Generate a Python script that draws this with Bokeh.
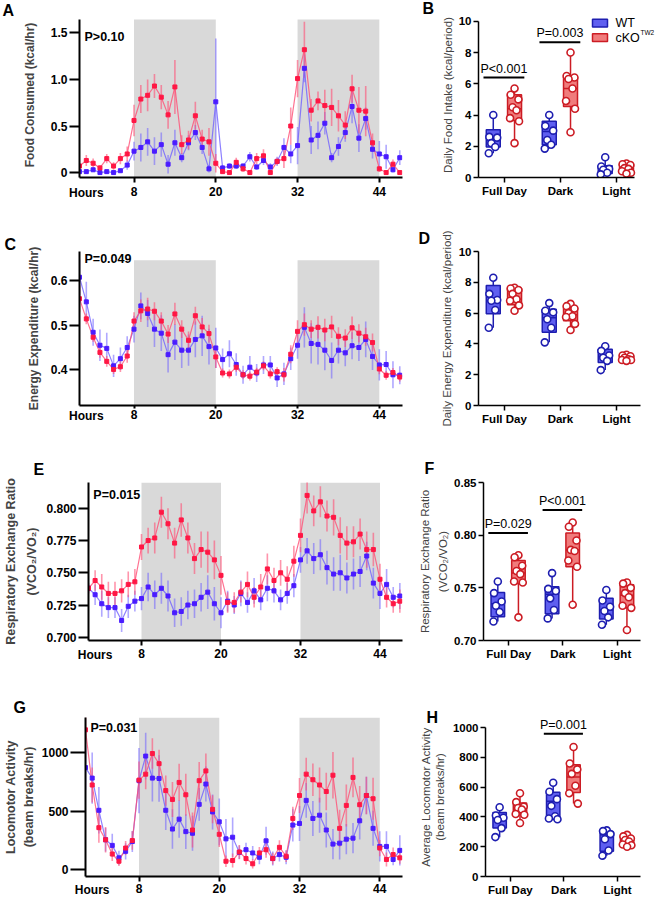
from bokeh.plotting import figure
from bokeh.layouts import row, column
from bokeh.models import (Range1d, FixedTicker, BoxAnnotation, Label, PrintfTickFormatter,
                          LinearAxis)
from bokeh.embed import file_html
from bokeh.resources import INLINE

# ---------------- data ----------------
hours = list(range(48))
dark_start = [8, 32]
dark_end = [20, 44]
hour_ticks = [8, 20, 32, 44]
hour_label_ticks = [1]
hour_label_text = {1: "Hours"}

# A: food consumed (kcal/hr)
a_ko = [0.07,0.13,0.10,0.05,0.15,0.07,0.15,0.20, 0.56,0.79,0.83,0.93,0.81,0.62,0.92,0.30,
        0.35,0.61,0.36,0.33,0.10,0.01,0.00,0.11, 0.04,0.00,0.15,0.18,0.00,0.12,0.15,0.50,
        1.01,1.32,0.67,0.77,0.72,0.70,0.61,0.51, 0.90,0.67,0.66,0.32,0.04,0.00,0.09,0.00]
a_ko_err = [0.03,0.06,0.05,0.03,0.05,0.04,0.06,0.08, 0.17,0.15,0.17,0.13,0.13,0.15,0.29,0.10,
            0.10,0.15,0.10,0.15,0.10,0.02,0.02,0.05, 0.03,0.02,0.06,0.07,0.02,0.04,0.10,0.20,
            0.20,0.30,0.12,0.10,0.17,0.20,0.17,0.15, 0.15,0.25,0.27,0.10,0.03,0.02,0.05,0.02]
a_wt = [0.01,0.01,0.03,0.00,0.01,0.00,0.02,0.08, 0.23,0.27,0.33,0.23,0.30,0.09,0.32,0.16,
        0.32,0.43,0.27,0.04,0.76,0.05,0.07,0.07, 0.07,0.17,0.06,0.13,0.06,0.12,0.27,0.20,
        0.29,1.12,0.35,0.40,0.53,0.16,0.28,0.43, 0.71,0.37,0.58,0.25,0.20,0.17,0.03,0.16]
a_wt_err = [0.01,0.01,0.02,0.01,0.01,0.01,0.02,0.05, 0.10,0.15,0.15,0.15,0.13,0.10,0.14,0.05,
            0.08,0.08,0.07,0.04,0.68,0.03,0.03,0.03, 0.03,0.05,0.03,0.05,0.04,0.05,0.10,0.10,
            0.20,0.15,0.15,0.15,0.12,0.05,0.10,0.10, 0.18,0.15,0.12,0.10,0.14,0.13,0.03,0.08]

# C: energy expenditure (kcal/hr)
c_ko = [0.559,0.514,0.473,0.439,0.419,0.401,0.407,0.431, 0.509,0.532,0.536,0.531,0.509,0.480,0.525,0.491,
        0.466,0.521,0.496,0.481,0.429,0.393,0.391,0.406, 0.389,0.386,0.395,0.409,0.391,0.396,0.389,0.435,
        0.486,0.501,0.491,0.495,0.489,0.496,0.475,0.471, 0.494,0.482,0.474,0.461,0.402,0.388,0.394,0.384]
c_ko_err = [0.03,0.012,0.01,0.012,0.012,0.01,0.012,0.015, 0.02,0.025,0.025,0.02,0.02,0.02,0.025,0.02,
            0.02,0.02,0.02,0.02,0.025,0.01,0.01,0.01, 0.01,0.01,0.01,0.01,0.01,0.01,0.015,0.02,
            0.025,0.025,0.02,0.025,0.025,0.025,0.02,0.02, 0.025,0.02,0.02,0.02,0.012,0.01,0.01,0.01]
c_wt = [0.607,0.552,0.484,0.455,0.448,0.409,0.425,0.450, 0.491,0.543,0.526,0.491,0.482,0.434,0.462,0.444,
        0.444,0.468,0.476,0.452,0.449,0.423,0.436,0.412, 0.389,0.406,0.393,0.411,0.411,0.382,0.391,0.425,
        0.455,0.495,0.459,0.457,0.444,0.421,0.444,0.438, 0.454,0.450,0.468,0.430,0.411,0.412,0.389,0.388]
c_wt_err = [0.04,0.045,0.03,0.035,0.035,0.025,0.025,0.025, 0.03,0.03,0.03,0.04,0.04,0.04,0.04,0.04,
            0.035,0.04,0.045,0.04,0.045,0.025,0.03,0.025, 0.02,0.025,0.02,0.02,0.02,0.02,0.025,0.025,
            0.03,0.045,0.045,0.045,0.045,0.04,0.03,0.03, 0.03,0.03,0.04,0.03,0.035,0.03,0.03,0.02]

# E: respiratory exchange ratio
e_ko = [0.738,0.744,0.739,0.734,0.734,0.736,0.741,0.743, 0.770,0.775,0.777,0.797,0.788,0.773,0.791,0.777,
        0.761,0.768,0.766,0.760,0.748,0.727,0.727,0.735, 0.741,0.731,0.739,0.753,0.744,0.750,0.745,0.759,
        0.779,0.810,0.798,0.805,0.794,0.793,0.779,0.773, 0.774,0.780,0.768,0.768,0.745,0.731,0.726,0.728]
e_ko_err = [0.004,0.008,0.01,0.009,0.009,0.009,0.01,0.01, 0.01,0.01,0.012,0.012,0.012,0.012,0.013,0.012,
            0.012,0.014,0.016,0.015,0.015,0.008,0.008,0.008, 0.01,0.008,0.01,0.012,0.01,0.01,0.01,0.012,
            0.013,0.014,0.012,0.012,0.012,0.014,0.014,0.013, 0.012,0.012,0.014,0.013,0.012,0.008,0.007,0.009]
e_wt = [0.738,0.733,0.726,0.723,0.723,0.713,0.724,0.728, 0.730,0.739,0.733,0.738,0.732,0.719,0.720,0.725,
        0.726,0.731,0.735,0.726,0.719,0.728,0.725,0.734, 0.727,0.736,0.729,0.738,0.736,0.729,0.734,0.740,
        0.760,0.767,0.761,0.764,0.754,0.749,0.750,0.746, 0.749,0.751,0.763,0.742,0.734,0.741,0.731,0.732]
e_wt_err = [0.003,0.008,0.01,0.008,0.008,0.009,0.009,0.008, 0.009,0.011,0.011,0.012,0.012,0.011,0.011,0.011,
            0.011,0.011,0.013,0.013,0.012,0.008,0.007,0.01, 0.008,0.01,0.008,0.01,0.009,0.008,0.008,0.009,
            0.01,0.01,0.012,0.012,0.013,0.013,0.014,0.012, 0.012,0.012,0.011,0.012,0.012,0.012,0.008,0.01]

# G: locomotor activity (beam breaks/hr)
g_ko = [1197,724,358,254,132,70,183,248, 766,817,994,907,676,600,746,640,
        338,761,845,515,301,70,76,149, 93,48,141,169,93,189,113,437,
        634,817,769,724,668,808,352,549, 789,555,634,606,183,85,127,99]
g_ko_err = [120,150,130,110,60,40,60,80, 160,130,130,120,130,150,160,180,
            150,160,150,120,110,50,60,60, 50,40,50,70,50,60,50,100,
            150,140,140,150,160,200,160,180, 170,160,160,180,70,60,60,50]
g_wt = [873,783,507,254,206,99,155,239, 761,972,783,780,507,346,431,324,
        310,558,732,493,408,262,276,146, 169,141,104,245,93,127,104,380,
        394,592,437,465,338,217,225,259, 268,417,634,352,197,197,85,163]
g_wt_err = [190,220,200,100,100,60,70,90, 280,200,200,200,170,170,160,150,
            150,140,150,150,200,170,170,60, 60,60,60,120,60,60,60,140,
            150,150,150,150,150,130,140,130, 130,160,160,150,130,130,50,130]

categories = ["Full Day", "Dark", "Light"]

# B: daily food intake
b_wt_pts = [[4.0,2.6,2.55,2.2,1.95,1.55],[4.0,3.3,3.0,2.4,2.1,1.85],[1.3,0.7,0.55,0.5,0.3,0.2]]
b_wt_q1 = [1.95,2.1,0.25]; b_wt_med = [2.4,2.95,0.5]; b_wt_q3 = [3.05,3.6,0.75]
b_wt_lo = [1.55,1.85,0.2]; b_wt_hi = [4.0,4.0,1.3]
b_ko_pts = [[5.7,5.3,5.0,4.5,4.3,3.8,3.6,2.2],[8.0,6.5,6.4,6.3,5.7,4.9,4.4,2.9],[0.9,0.85,0.8,0.6,0.55,0.4,0.3,0.25]]
b_ko_q1 = [3.65,4.55,0.35]; b_ko_med = [4.4,5.7,0.6]; b_ko_q3 = [5.3,6.4,0.85]
b_ko_lo = [2.2,2.9,0.25]; b_ko_hi = [5.7,8.0,0.9]
b_sig_cat = [0, 1]; b_sig_y = [6.4, 8.65]; b_sig_text = ["P<0.001", "P=0.003"]

# D: daily energy expenditure
d_wt_pts = [[8.3,7.25,6.85,6.8,6.2,5.05],[6.65,6.15,6.05,5.6,5.05,4.1],[3.85,3.55,3.25,3.1,2.9,2.3]]
d_wt_q1 = [5.95,4.75,2.8]; d_wt_med = [6.8,5.7,3.2]; d_wt_q3 = [7.8,6.25,3.65]
d_wt_lo = [5.05,4.1,2.3]; d_wt_hi = [8.3,6.65,3.85]
d_ko_pts = [[7.65,7.6,7.5,7.25,6.9,6.8,6.5,6.15],[6.6,6.45,6.3,6.0,5.8,5.75,5.3,4.9],[3.3,3.25,3.2,3.1,3.0,2.95,2.95,2.9]]
d_ko_q1 = [6.55,5.5,2.95]; d_ko_med = [6.9,5.9,3.1]; d_ko_q3 = [7.6,6.35,3.25]
d_ko_lo = [6.15,4.9,2.9]; d_ko_hi = [7.7,6.6,3.3]
d_sig_cat = []; d_sig_y = []; d_sig_text = []

# F: respiratory exchange ratio by period
f_wt_pts = [[0.756,0.745,0.737,0.733,0.727,0.718],[0.764,0.749,0.747,0.740,0.729,0.721],[0.748,0.738,0.732,0.728,0.722,0.715]]
f_wt_q1 = [0.7225,0.7255,0.7205]; f_wt_med = [0.735,0.744,0.729]; f_wt_q3 = [0.7455,0.751,0.740]
f_wt_lo = [0.718,0.721,0.715]; f_wt_hi = [0.756,0.764,0.748]
f_ko_pts = [[0.781,0.779,0.771,0.766,0.763,0.756,0.755,0.722],[0.812,0.808,0.795,0.786,0.785,0.776,0.770,0.734],[0.755,0.754,0.750,0.745,0.741,0.733,0.731,0.710]]
f_ko_q1 = [0.754,0.770,0.731]; f_ko_med = [0.764,0.786,0.743]; f_ko_q3 = [0.776,0.802,0.753]
f_ko_lo = [0.722,0.734,0.710]; f_ko_hi = [0.781,0.812,0.755]
f_sig_cat = [0, 1]; f_sig_y = [0.802, 0.824]; f_sig_text = ["P=0.029", "P<0.001"]

# H: average locomotor activity
h_wt_pts = [[465,410,395,380,325,265],[630,570,520,475,405,390,385],[310,305,285,250,175,140]]
h_wt_q1 = [326,395,170]; h_wt_med = [388,505,280]; h_wt_q3 = [430,567,300]
h_wt_lo = [263,385,140]; h_wt_hi = [463,630,310]
h_ko_pts = [[560,500,470,460,450,420,415,360],[870,760,720,690,610,560,490],[280,270,255,245,235,215,210,200]]
h_ko_q1 = [429,564,215]; h_ko_med = [456,668,240]; h_ko_q3 = [494,751,265]
h_ko_lo = [360,490,200]; h_ko_hi = [560,870,280]
h_sig_cat = [1]; h_sig_y = [960]; h_sig_text = ["P=0.001"]

# ---------------- style ----------------
FONT = "Liberation Sans"
KO_PT = "#ff1744"; KO_LN = "#ff4f75"
WT_PT = "#4a1cff"; WT_LN = "#7060ff"
WT_FILL = "#5f5ff0"; WT_EDGE = "#1e1eb0"
KO_FILL = "#f07c7c"; KO_EDGE = "#cc1c24"
GRAY = "#d9d9d9"

LEFT_X0, LEFT_W = 0, 416
RIGHT_X0, RIGHT_W = 416, 241


def to_data(spec, X, Y):
    fx0, fy0, fx1, fy1 = spec["frame"]
    x0, x1 = spec["xr"]
    y0, y1 = spec["yr"]
    return (x0 + (X - fx0) / (fx1 - fx0) * (x1 - x0),
            y1 - (Y - fy0) / (fy1 - fy0) * (y1 - y0))


def add_text(p, spec, X, Y, text, size="12px", style="normal", align="left", baseline="middle"):
    x, y = to_data(spec, X, Y)
    p.add_layout(Label(x=x, y=y, text=text, text_font=FONT, text_font_size=size,
                       text_font_style=style, text_align=align, text_baseline=baseline,
                       text_color="black"))


def mk_fig(spec, cx0, cw):
    fx0, fy0, fx1, fy1 = spec["frame"]
    rt, rb = spec["row"]
    p = figure(width=cw, height=rb - rt, x_range=Range1d(*spec["xr"]),
               y_range=Range1d(*spec["yr"]), output_backend="svg", toolbar_location=None,
               min_border_left=fx0 - cx0, min_border_right=cx0 + cw - fx1,
               min_border_top=fy0 - rt, min_border_bottom=rb - fy1)
    p.xgrid.visible = False
    p.ygrid.visible = False
    p.outline_line_color = None
    # panel letter as a title pulled to the left of the frame
    lx, lyb = spec["letter"]
    p.title.text = spec["name"]
    p.title.align = "left"
    p.title.offset = lx - fx0 - 1
    p.title.standoff = 2 * (fy0 - 3.4 - lyb)
    p.title.text_font = FONT
    p.title.text_font_size = "16px"
    p.title.text_font_style = "bold"
    p.title.text_color = "black"
    return p


def style_axis(ax, size, lw, tick_out, standoff):
    ax.axis_line_width = lw
    ax.axis_line_color = "black"
    ax.major_tick_line_width = lw
    ax.major_tick_line_color = "black"
    ax.major_tick_in = 0
    ax.major_tick_out = tick_out
    ax.minor_tick_line_color = None
    ax.major_label_text_font = FONT
    ax.major_label_text_font_size = size
    ax.major_label_text_font_style = "bold"
    ax.major_label_text_color = "black"
    ax.major_label_standoff = standoff


def ts_panel(spec, wt, wt_err, ko, ko_err):
    p = mk_fig(spec, LEFT_X0, LEFT_W)
    for s, e in zip(dark_start, dark_end):
        p.add_layout(BoxAnnotation(left=s, right=e, top=spec["gray_top"],
                                   fill_color=GRAY, fill_alpha=1.0, line_color=None,
                                   level="underlay"))
    for vals, errs, col, a in [(wt, wt_err, WT_LN, 0.55), (ko, ko_err, KO_LN, 0.6)]:
        p.segment(x0=hours, y0=[v - e for v, e in zip(vals, errs)],
                  x1=hours, y1=[v + e for v, e in zip(vals, errs)],
                  line_color=col, line_alpha=a, line_width=1.6)
    p.line(hours, wt, line_color=WT_LN, line_alpha=0.8, line_width=1.2)
    p.line(hours, ko, line_color=KO_LN, line_alpha=0.8, line_width=1.2)
    p.scatter(hours, wt, marker="square", size=4, fill_color=WT_PT, line_color=WT_PT)
    p.scatter(hours, ko, marker="square", size=4, fill_color=KO_PT, line_color=KO_PT)

    # x axis with ticks/labels; a second, line-less axis puts "Hours" on the same row
    ax1 = p.xaxis[0]
    style_axis(ax1, "12px", 2, spec["xtick_out"], spec["xlab_standoff"])
    ax1.ticker = FixedTicker(ticks=hour_ticks)
    ax2 = LinearAxis(ticker=FixedTicker(ticks=hour_label_ticks),
                     major_label_overrides=hour_label_text)
    style_axis(ax2, "12px", 2, 0, -13)
    ax2.axis_line_color = None
    ax2.major_tick_line_color = None
    p.add_layout(ax2, "below")

    style_axis(p.yaxis[0], "12px", 2, spec["ytick_out"], 2)
    p.yaxis.ticker = FixedTicker(ticks=spec["yticks"])
    p.yaxis.formatter = PrintfTickFormatter(format=spec["fmt"])
    p.yaxis.bounds = (spec["yr"][0], spec["gray_top"] if spec.get("ytop") is None else spec["ytop"])
    if spec.get("zero_label"):
        p.yaxis.major_label_overrides = {0: "0"}
    p.yaxis.axis_label = spec["ylabel"]
    p.yaxis.axis_label_text_font = FONT
    p.yaxis.axis_label_text_font_size = spec.get("lab_size", "12px")
    p.yaxis.axis_label_text_font_style = "bold"
    p.yaxis.axis_label_text_line_height = spec.get("lab_lh", 1.2)
    p.yaxis.axis_label_standoff = spec["lab_standoff"]

    fx0, fy0, fx1, fy1 = spec["frame"]
    add_text(p, spec, fx0 + 5, spec["p_y"], spec["ptext"], "12.5px", "bold")
    return p


BW = 0.25
OFF_WT, OFF_KO = -0.2, 0.18
JIT = [0.0, -0.07, 0.07, -0.035, 0.035, -0.08, 0.08, 0.0]


def box_panel(spec, wt, ko, sig):
    p = mk_fig(spec, RIGHT_X0, RIGHT_W)
    for grp, off, fill, edge in [(wt, OFF_WT, WT_FILL, WT_EDGE), (ko, OFF_KO, KO_FILL, KO_EDGE)]:
        xs = [i + 1 + off for i in range(len(categories))]
        p.segment(xs, grp["lo"], xs, grp["q1"], line_color=edge, line_width=1.5)
        p.segment(xs, grp["q3"], xs, grp["hi"], line_color=edge, line_width=1.5)
        p.quad(left=[x - BW / 2 for x in xs], right=[x + BW / 2 for x in xs],
               bottom=grp["q1"], top=grp["q3"], fill_color=fill, line_color=edge, line_width=1.5)
        p.segment([x - BW / 2 for x in xs], grp["med"], [x + BW / 2 for x in xs], grp["med"],
                  line_color=edge, line_width=1.5)
        px, py = [], []
        for i, pts in enumerate(grp["pts"]):
            for j, v in enumerate(pts):
                px.append(i + 1 + off + JIT[j % len(JIT)])
                py.append(v)
        p.scatter(px, py, marker="circle", size=7, fill_color="white", line_color=edge,
                  line_width=1.6)
    cats, ys, texts = sig
    _, ypx0 = to_data(spec, 0, 0)
    _, ypx2 = to_data(spec, 0, -2)
    for c, y, t in zip(cats, ys, texts):
        cx = c + 1
        p.segment([cx + OFF_WT - BW / 2 - 0.05], [y], [cx + OFF_KO + BW / 2 + 0.05], [y],
                  line_color="black", line_width=2)
        p.add_layout(Label(x=cx + (OFF_WT + OFF_KO) / 2, y=y + (ypx2 - ypx0), text=t,
                           text_font=FONT, text_font_size="12.5px", text_align="center",
                           text_baseline="bottom", text_color="black"))

    style_axis(p.xaxis[0], "11.5px", 1.5, 5, 2)
    p.xaxis.ticker = FixedTicker(ticks=[1, 2, 3])
    p.xaxis.major_label_overrides = {i + 1: c for i, c in enumerate(categories)}
    p.xaxis.bounds = spec["xbounds"]
    style_axis(p.yaxis[0], "11.5px", 1.5, 5, 2)
    p.yaxis.ticker = FixedTicker(ticks=spec["yticks"])
    p.yaxis.formatter = PrintfTickFormatter(format=spec["fmt"])
    p.yaxis.bounds = (spec["yticks"][0], spec["yticks"][-1])
    p.yaxis.axis_label = spec["ylabel"]
    p.yaxis.axis_label_text_font = FONT
    p.yaxis.axis_label_text_font_size = "11.5px"
    p.yaxis.axis_label_text_font_style = "normal"
    p.yaxis.axis_label_text_line_height = spec.get("lab_lh", 1.2)
    p.yaxis.axis_label_standoff = spec["lab_standoff"]
    return p


XR_L = (0, 47.4)
XR_R = (0.536, 3.43)

spec_a = dict(name="A", row=(0, 204), frame=(79, 10, 402, 177), xr=XR_L, yr=(-0.053, 1.720),
              gray_top=1.645, yticks=[0, 0.5, 1.0, 1.5], fmt="%.1f", zero_label=True,
              ylabel="Food Consumed (kcal/hr)", ptext="P>0.10", p_y=35, xtick_out=5,
              xlab_standoff=4, ytick_out=10, letter=(3, 13), lab_standoff=11)
spec_c = dict(name="C", row=(204, 434), frame=(79, 245, 402, 405), xr=XR_L, yr=(0.3204, 0.6645),
              gray_top=0.645, ytop=0.6645, yticks=[0.4, 0.5, 0.6], fmt="%.1f",
              ylabel="Energy Expenditure (kcal/hr)", ptext="P=0.049", p_y=253, xtick_out=3,
              xlab_standoff=1, ytick_out=10, letter=(5, 243), lab_standoff=7)
spec_e = dict(name="E", row=(434, 665), frame=(79, 480, 402, 640), xr=XR_L, yr=(0.6975, 0.82),
              gray_top=0.82, yticks=[0.7, 0.725, 0.75, 0.775, 0.8], fmt="%.3f",
              ylabel="Respiratory Exchange Ratio\n(VCO\u2082/VO\u2082)", ptext="P=0.015", p_y=493,
              xtick_out=5, xlab_standoff=3, ytick_out=10, letter=(25, 472), lab_standoff=4,
              lab_size="12.5px", lab_lh=1.55)
spec_g = dict(name="G", row=(665, 899), frame=(79, 717, 402, 879), xr=XR_L, yr=(-61, 1303),
              gray_top=1303, yticks=[0, 500, 1000], fmt="%d",
              ylabel="Locomotor Activity\n(beam breaks/hr)", ptext="P=0.031", p_y=728,
              xtick_out=5, xlab_standoff=2, ytick_out=15, letter=(8, 712), lab_standoff=3,
              lab_size="12.5px", lab_lh=1.3)

spec_b = dict(name="B", row=(0, 204), frame=(478, 12, 657, 182), xr=(0.536, 3.734),
              xbounds=(0.536, 3.33), yr=(0, 10.56), yticks=[0, 2, 4, 6, 8, 10], fmt="%d",
              ylabel="Daily Food Intake (kcal/period)", letter=(423, 13), lab_standoff=2)
spec_d = dict(name="D", row=(204, 434), frame=(478, 251, 640, 412), xr=XR_R, xbounds=XR_R,
              yr=(0, 10), yticks=[0, 2, 4, 6, 8, 10], fmt="%d",
              ylabel="Daily Energy Expenditure (kcal/period)", letter=(419, 243), lab_standoff=3)
spec_f = dict(name="F", row=(434, 665), frame=(478, 482, 640, 643), xr=XR_R, xbounds=XR_R,
              yr=(0.70, 0.85), yticks=[0.70, 0.75, 0.80, 0.85], fmt="%.2f",
              ylabel="Respiratory Exchange Ratio\n(VCO\u2082/VO\u2082)", letter=(420, 473),
              lab_standoff=2, lab_lh=1.5)
spec_h = dict(name="H", row=(665, 899), frame=(478, 707, 640, 878), xr=XR_R, xbounds=XR_R,
              yr=(0, 1068.75), yticks=[0, 200, 400, 600, 800, 1000], fmt="%d",
              ylabel="Average Locomotor Activity\n(beam breaks/hr)", letter=(420, 712),
              lab_standoff=4, lab_lh=1.2)


def grp(pts, q1, med, q3, lo, hi):
    return dict(pts=pts, q1=q1, med=med, q3=q3, lo=lo, hi=hi)


pA = ts_panel(spec_a, a_wt, a_wt_err, a_ko, a_ko_err)
pC = ts_panel(spec_c, c_wt, c_wt_err, c_ko, c_ko_err)
pE = ts_panel(spec_e, e_wt, e_wt_err, e_ko, e_ko_err)
pG = ts_panel(spec_g, g_wt, g_wt_err, g_ko, g_ko_err)

pB = box_panel(spec_b, grp(b_wt_pts, b_wt_q1, b_wt_med, b_wt_q3, b_wt_lo, b_wt_hi),
               grp(b_ko_pts, b_ko_q1, b_ko_med, b_ko_q3, b_ko_lo, b_ko_hi),
               (b_sig_cat, b_sig_y, b_sig_text))
pD = box_panel(spec_d, grp(d_wt_pts, d_wt_q1, d_wt_med, d_wt_q3, d_wt_lo, d_wt_hi),
               grp(d_ko_pts, d_ko_q1, d_ko_med, d_ko_q3, d_ko_lo, d_ko_hi),
               (d_sig_cat, d_sig_y, d_sig_text))
pF = box_panel(spec_f, grp(f_wt_pts, f_wt_q1, f_wt_med, f_wt_q3, f_wt_lo, f_wt_hi),
               grp(f_ko_pts, f_ko_q1, f_ko_med, f_ko_q3, f_ko_lo, f_ko_hi),
               (f_sig_cat, f_sig_y, f_sig_text))
pH = box_panel(spec_h, grp(h_wt_pts, h_wt_q1, h_wt_med, h_wt_q3, h_wt_lo, h_wt_hi),
               grp(h_ko_pts, h_ko_q1, h_ko_med, h_ko_q3, h_ko_lo, h_ko_hi),
               (h_sig_cat, h_sig_y, h_sig_text))

# legend for B (drawn manually inside the widened frame)
legend_items = [("WT", WT_FILL, WT_EDGE), ("cKO", KO_FILL, KO_EDGE)]
for k, (lab, fill, edge) in enumerate(legend_items):
    ytop = 19 + 15 * k
    x0, y0 = to_data(spec_b, 592, ytop + 8)
    x1, y1 = to_data(spec_b, 607, ytop)
    pB.quad(left=[x0], right=[x1], bottom=[y0], top=[y1], fill_color=fill,
            line_color=edge, line_width=1.5)
    add_text(pB, spec_b, 615, ytop + 4, lab, "12.5px", "normal")
add_text(pB, spec_b, 640, 33, "TW2", "6.5px", "normal")

layout = column(row(pA, pB), row(pC, pD), row(pE, pF), row(pG, pH))

open("out.html", "w").write(file_html(layout, INLINE))
